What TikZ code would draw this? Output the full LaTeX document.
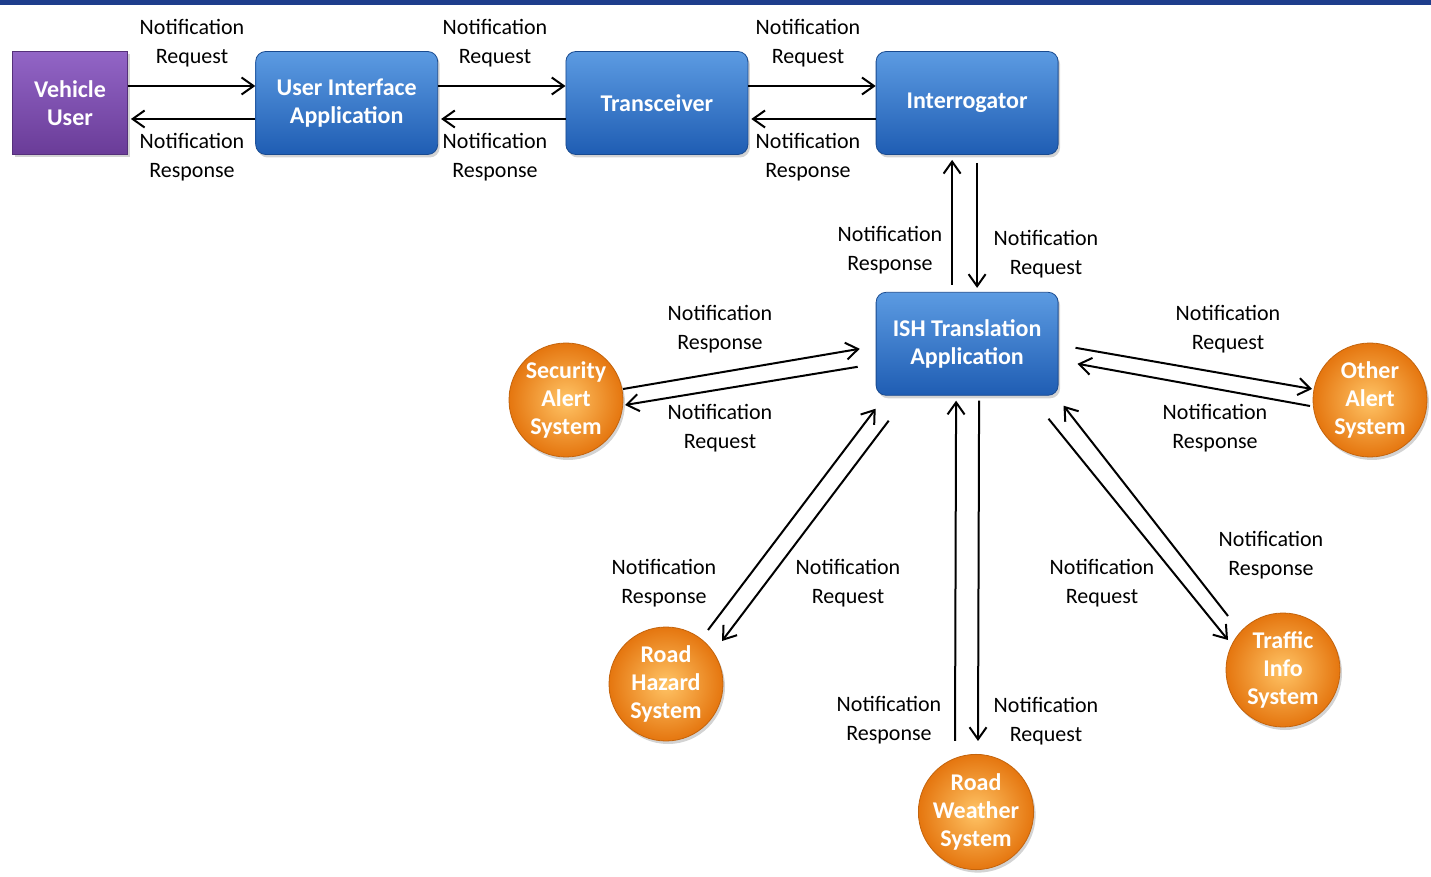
\documentclass[tikz,border=0pt]{standalone}
\usepackage{fontspec}
\setmainfont{Carlito}
\usetikzlibrary{positioning, arrows.meta, shadows}
\definecolor{bartop}{HTML}{1E3D8C}
\definecolor{apptop}{HTML}{5C9BE2}
\definecolor{appbot}{HTML}{1F5DB3}
\definecolor{usrtop}{HTML}{9265C6}
\definecolor{usrbot}{HTML}{6A3C98}
\definecolor{sysin}{HTML}{FFC466}
\definecolor{sysout}{HTML}{E5760F}
\tikzset{
    app/.style={
        draw=appbot!80!black,
        line width=0.4pt,
        rounded corners=5pt,
        top color=apptop,
        bottom color=appbot,
        minimum width=91pt,
        minimum height=51.5pt,
        align=center,
        text=white,
        font=\bfseries\fontsize{12}{14}\selectfont,
        drop shadow={opacity=0.35, shadow xshift=1pt, shadow yshift=-1.5pt},
    },
    usr/.style={
        app,
        rounded corners=0pt,
        draw=usrbot!80!black,
        top color=usrtop,
        bottom color=usrbot,
        minimum width=57.5pt,
    },
    sys/.style={
        circle,
        draw=sysout!85!black,
        line width=0.4pt,
        inner color=sysin,
        outer color=sysout,
        minimum size=57pt,
        inner sep=0pt,
        align=center,
        text=white,
        font=\bfseries\fontsize{12}{14}\selectfont,
        drop shadow={opacity=0.35, shadow xshift=1pt, shadow yshift=-1.5pt},
    },
    lbl/.style={
        align=center,
        inner sep=0pt,
        font=\fontsize{11}{14.5}\selectfont,
    },
    flow/.style={
        -{Straight Barb[length=6pt,width=8.5pt]},
        line width=1pt,
    }
}

\begin{document}
\begin{tikzpicture}[x=0.5pt, y=-0.5pt, node distance=63.7pt]
    \useasboundingbox (0,0) rectangle (1431,877);
    \fill[bartop] (0,0) rectangle (1431,5);

    % top row
    \node[usr] (vu) at (70,103) {Vehicle\\User};
    \node[app, right=of vu] (uia) {User Interface\\Application};
    \node[app, right=of uia] (trx) {Transceiver};
    \node[app, right=of trx] (int) {Interrogator};
    \node[app, below=68.5pt of int] (ish) {ISH Translation\\Application};

    % alert systems
    \node[sys] (sec) at (566,400) {Security\\Alert\\System};
    \node[sys] (oth) at (1370,400) {Other\\Alert\\System};
    \node[sys] (haz) at (666,684) {Road\\Hazard\\System};
    \node[sys] (trf) at (1283,670) {Traffic\\Info\\System};
    \node[sys] (rws) at (976,812) {Road\\Weather\\System};

    \draw[flow] ([yshift=8.5pt]vu.east) to ([yshift=8.5pt]uia.west);
    \draw[flow] ([yshift=-8pt]uia.west) to ([xshift=1.5pt,yshift=-8pt]vu.east);
    \draw[flow] ([yshift=8.5pt]uia.east) to ([yshift=8.5pt]trx.west);
    \draw[flow] ([yshift=-8pt]trx.west) to ([xshift=1.5pt,yshift=-8pt]uia.east);
    \draw[flow] ([yshift=8.5pt]trx.east) to ([yshift=8.5pt]int.west);
    \draw[flow] ([yshift=-8pt]int.west) to ([xshift=1.5pt,yshift=-8pt]trx.east);

    \draw[flow] ([xshift=-7.5pt,yshift=3.5pt]ish.north) to ([xshift=-7.5pt,yshift=-2.5pt]int.south);
    \draw[flow] ([xshift=5pt,yshift=-4pt]int.south) to ([xshift=5pt,yshift=2pt]ish.north);

    \draw[flow] ([shift={(28.5pt,5.5pt)}]sec.center) to ([xshift=-8pt,yshift=-2.5pt]ish.west);
    \draw[flow] ([xshift=-9pt,yshift=-11.5pt]ish.west) to ([shift={(29.5pt,-2.5pt)}]sec.center);

    \draw[flow] ([xshift=8.5pt,yshift=-2pt]ish.east) to ([shift={(-29pt,5.5pt)}]oth.center);
    \draw[flow] ([shift={(-30pt,-3pt)}]oth.center) to ([xshift=9.5pt,yshift=-10pt]ish.east);

    \draw[flow] ([shift={(21pt,27pt)}]haz.center) to ([yshift=-6.5pt]ish.south west);
    \draw[flow] ([xshift=6.5pt,yshift=-12.5pt]ish.south west) to ([shift={(28pt,21.5pt)}]haz.center);

    \draw[flow] ([xshift=-5pt,yshift=-11.5pt]ish.south east) to ([shift={(-27.5pt,15pt)}]trf.center);
    \draw[flow] ([shift={(-27.5pt,27pt)}]trf.center) to ([xshift=2.5pt,yshift=-5pt]ish.south east);

    \draw[flow] ([xshift=-10.5pt,yshift=6.5pt]rws.north) to ([xshift=-5.5pt,yshift=-2.5pt]ish.south);
    \draw[flow] ([xshift=6pt,yshift=-2.5pt]ish.south) to ([xshift=1pt,yshift=6.5pt]rws.north);

    % labels
    \node[lbl] (q1) at (192,43) {Notification\\Request};
    \node[lbl] (r1) at (192,157) {Notification\\Response};
    \node[lbl] (q2) at (495,43) {Notification\\Request};
    \node[lbl] (r2) at (495,157) {Notification\\Response};
    \node[lbl] (q3) at (808,43) {Notification\\Request};
    \node[lbl] (r3) at (808,157) {Notification\\Response};
    \node[lbl] (r4) at (890,250) {Notification\\Response};
    \node[lbl] (q4) at (1046,254) {Notification\\Request};
    \node[lbl] (r5) at (720,329) {Notification\\Response};
    \node[lbl] (q5) at (720,428) {Notification\\Request};
    \node[lbl] (q6) at (1228,329) {Notification\\Request};
    \node[lbl] (r6) at (1215,428) {Notification\\Response};
    \node[lbl] (r7) at (664,583) {Notification\\Response};
    \node[lbl] (q7) at (848,583) {Notification\\Request};
    \node[lbl] (q8) at (1102,583) {Notification\\Request};
    \node[lbl] (r8) at (1271,555) {Notification\\Response};
    \node[lbl] (r9) at (889,720) {Notification\\Response};
    \node[lbl] (q9) at (1046,721) {Notification\\Request};
\end{tikzpicture}
\end{document}
